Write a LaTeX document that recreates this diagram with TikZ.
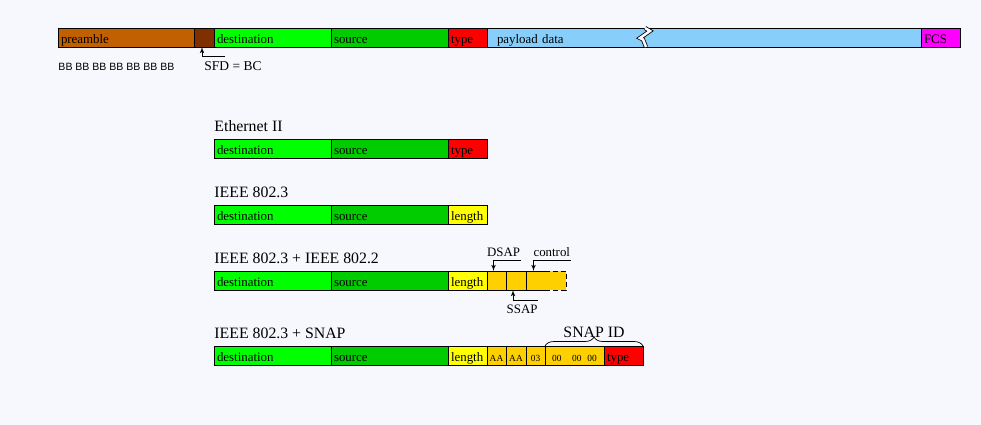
\documentclass[tikz,border=0pt]{standalone}
\usepackage{fontspec}
\setmainfont{Liberation Serif}
\newfontfamily\bbfont{Liberation Sans}
\usetikzlibrary{arrows, positioning, calc, decorations.pathreplacing}

\newlength\pxu
\setlength\pxu{0.03cm}

\definecolor{preamblecol}{RGB}{192,96,0}
\definecolor{sfdcol}{RGB}{128,48,0}
\definecolor{dstcol}{RGB}{0,255,0}
\definecolor{srccol}{RGB}{0,204,0}
\definecolor{typecol}{RGB}{255,0,0}
\definecolor{paycol}{RGB}{135,206,250}
\definecolor{fcscol}{RGB}{255,0,255}
\definecolor{lencol}{RGB}{255,255,0}
\definecolor{llccol}{RGB}{255,208,0}
\definecolor{bgcol}{RGB}{247,248,253}

\tikzset{
	field/.style={draw, outer sep=0pt, inner ysep=0pt, inner xsep=3*\pxu, minimum height=19*\pxu, text width=#1*\pxu-6*\pxu, align=left, text height=11pt, text depth=0.5pt, font=\fontsize{11pt}{12pt}\selectfont},
	small/.style={draw, outer sep=0pt, inner sep=0pt, minimum height=19*\pxu, minimum width=#1*\pxu, fill=llccol, text height=11pt, text depth=0pt, font=\fontsize{8pt}{9pt}\selectfont},
	title/.style={anchor=base west, inner sep=0pt, font=\fontsize{13.5pt}{15pt}\selectfont},
	tag/.style={inner sep=0pt, font=\fontsize{11pt}{12pt}\selectfont}
}

\begin{document}
\begin{tikzpicture}[x=0.03cm, y=-0.03cm, line width=0.8pt]
		\fill[bgcol] (0,0) rectangle (981,425);
		% full frame
		\node[field=136, fill=preamblecol, anchor=north west] (pre) at (58,28) {preamble};
		\node[field=20, fill=sfdcol, right=0pt of pre] (sfd) {};
		\node[field=117, fill=dstcol, right=0pt of sfd] (dst) {destination};
		\node[field=117, fill=srccol, right=0pt of dst] (src) {source};
		\node[field=39, fill=typecol, right=0pt of src] (type) {type};
		\node[field=434, fill=paycol, right=0pt of type] (pay) {\hspace*{6pt}payload data};
		\node[field=39, fill=fcscol, right=0pt of pay] (fcs) {FCS};
		\draw[double=white, double distance=2.5*\pxu, line width=0.7pt] ([xshift=158*\pxu]pay.north west) -- ++(5,3) -- ++(-10,7) -- ++(3,1.5) -- ++(3,7.5);
		\node[anchor=base west, inner sep=0pt, font=\bbfont\fontsize{9pt}{10pt}\selectfont] (bb) at ([yshift=-24*\pxu]pre.south west) {BB BB BB BB BB BB BB};
		\node[anchor=base west, inner sep=0pt, font=\fontsize{11.5pt}{12pt}\selectfont] (sfd-lbl) at ([yshift=-24*\pxu]sfd.south) {SFD = BC};
		\coordinate (sfd-tail) at ([shift={(21*\pxu,-9*\pxu)}]sfd.south);
		\draw[-latex'] (sfd-tail) -| ([xshift=-2*\pxu]sfd.south);

		% Ethernet II
		\node[field=117, fill=dstcol, anchor=north west] (e2-dst) at (214,139) {destination};
		\node[field=117, fill=srccol, right=0pt of e2-dst] (e2-src) {source};
		\node[field=39, fill=typecol, right=0pt of e2-src] (e2-type) {type};
		\node[title] (e2-title) at ([yshift=7.5*\pxu]e2-dst.north west) {Ethernet II};

		% IEEE 802.3
		\node[field=117, fill=dstcol, anchor=north west] (n3-dst) at (214,205) {destination};
		\node[field=117, fill=srccol, right=0pt of n3-dst] (n3-src) {source};
		\node[field=39, fill=lencol, right=0pt of n3-src] (n3-len) {length};
		\node[title] (n3-title) at ([yshift=7.5*\pxu]n3-dst.north west) {IEEE 802.3};

		% IEEE 802.3 + IEEE 802.2
		\node[field=117, fill=dstcol, anchor=north west] (llc-dst) at (214,271) {destination};
		\node[field=117, fill=srccol, right=0pt of llc-dst] (llc-src) {source};
		\node[field=39, fill=lencol, right=0pt of llc-src] (llc-len) {length};
		\node[small=19, right=0pt of llc-len] (llc-dsap) {};
		\node[small=20, right=0pt of llc-dsap] (llc-ssap) {};
		\node[small=19, right=0pt of llc-ssap] (llc-ctrl) {};
		\node[small=21, draw=none, right=0pt of llc-ctrl] (llc-more) {};
		\draw[dash pattern=on 5*\pxu off 3*\pxu] (llc-more.north west) -- (llc-more.north east) -- (llc-more.south east) -- (llc-more.south west);
		\node[title] (llc-title) at ([yshift=7.5*\pxu]llc-dst.north west) {IEEE 802.3 + IEEE 802.2};
		\node[tag, anchor=base east] (dsap-lbl) at ([shift={(24*\pxu,14.5*\pxu)}]llc-dsap.north) {DSAP};
		\draw[-latex'] ([yshift=-4*\pxu]dsap-lbl.base east) -| ([xshift=-3*\pxu]llc-dsap.north);
		\node[tag, anchor=base east] (ctrl-lbl) at ([shift={(35*\pxu,14.5*\pxu)}]llc-ctrl.north) {control};
		\draw[-latex'] ([yshift=-4*\pxu]ctrl-lbl.base east) -| ([xshift=-2*\pxu]llc-ctrl.north);
		\node[tag, anchor=base east] (ssap-lbl) at ([shift={(22*\pxu,-23*\pxu)}]llc-ssap.south) {SSAP};
		\draw[-latex'] ([yshift=13*\pxu]ssap-lbl.base east) -| ([xshift=-3*\pxu]llc-ssap.south);

		% IEEE 802.3 + SNAP
		\node[field=117, fill=dstcol, anchor=north west] (snap-dst) at (214,346) {destination};
		\node[field=117, fill=srccol, right=0pt of snap-dst] (snap-src) {source};
		\node[field=39, fill=lencol, right=0pt of snap-src] (snap-len) {length};
		\node[small=19, right=0pt of snap-len] (snap-aa1) {AA};
		\node[small=20, right=0pt of snap-aa1] (snap-aa2) {AA};
		\node[small=19, right=0pt of snap-aa2] (snap-03) {03};
		\node[small=59, right=0pt of snap-03] (snap-oui) {00\hspace{9pt}00\hspace{5pt}00};
		\node[field=39, fill=typecol, right=0pt of snap-oui] (snap-type) {type};
		\node[title] (snap-title) at ([yshift=7.5*\pxu]snap-dst.north west) {IEEE 802.3 + SNAP};
		\draw[decorate, decoration={brace, amplitude=9*\pxu}, line width=0.6pt] (snap-oui.north west) -- (snap-type.north east);
		\node[title, anchor=base] (snapid-lbl) at ([yshift=8.5*\pxu]$(snap-oui.north west)!0.5!(snap-type.north east)$) {SNAP ID};
	\end{tikzpicture}
\end{document}
